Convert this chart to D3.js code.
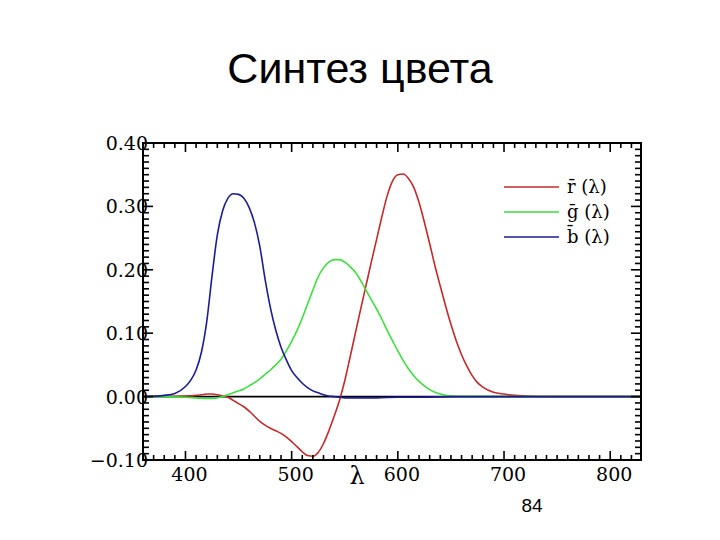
<!DOCTYPE html>
<html><head><meta charset="utf-8">
<script src="https://cdn.jsdelivr.net/npm/d3@7"></script>
<style>body{margin:0;background:#fff}svg{display:block}</style>
</head><body>
<svg id="c" width="720" height="540"></svg>
<script>
// Data (CIE 1931 RGB colour matching functions)
const redPts = [[360,0],[400,0.001],[410,0.002],[415,0.003],[420,0.004],[425,0.004],[430,0.003],[435,0.001],[440,-0.001],[445,-0.006],[450,-0.011],[455,-0.016],[460,-0.023],[465,-0.031],[470,-0.039],[475,-0.045],[480,-0.050],[485,-0.054],[490,-0.058],[495,-0.064],[500,-0.071],[505,-0.079],[510,-0.087],[515,-0.093],[520,-0.094],[525,-0.088],[530,-0.074],[535,-0.054],[540,-0.031],[545,-0.006],[550,0.025],[555,0.062],[560,0.100],[565,0.138],[570,0.175],[575,0.212],[580,0.248],[585,0.284],[590,0.317],[595,0.340],[600,0.350],[605,0.351],[610,0.344],[615,0.330],[620,0.306],[625,0.275],[630,0.241],[635,0.206],[640,0.174],[645,0.143],[650,0.114],[655,0.088],[660,0.066],[665,0.048],[670,0.033],[675,0.022],[680,0.015],[690,0.007],[700,0.004],[710,0.002],[720,0.001],[740,0],[829,0]];
const greenPts = [[360,0],[400,-0.001],[410,-0.002],[420,-0.003],[430,-0.002],[435,0.000],[440,0.003],[445,0.006],[450,0.009],[455,0.012],[460,0.017],[465,0.022],[470,0.028],[475,0.035],[480,0.042],[485,0.050],[490,0.059],[495,0.072],[500,0.087],[505,0.104],[510,0.124],[515,0.146],[520,0.168],[525,0.189],[530,0.203],[535,0.212],[540,0.216],[545,0.216],[550,0.212],[555,0.205],[560,0.196],[565,0.183],[570,0.168],[575,0.153],[580,0.138],[585,0.122],[590,0.104],[595,0.088],[600,0.072],[605,0.057],[610,0.044],[615,0.033],[620,0.024],[625,0.017],[630,0.011],[635,0.007],[640,0.004],[645,0.002],[650,0.001],[660,0],[829,0]];
const bluePts = [[360,0],[380,0.002],[390,0.005],[400,0.016],[405,0.026],[410,0.042],[415,0.070],[420,0.118],[425,0.190],[430,0.255],[435,0.293],[440,0.313],[445,0.320],[450,0.319],[455,0.313],[460,0.298],[465,0.274],[470,0.237],[475,0.185],[480,0.140],[485,0.105],[490,0.078],[495,0.058],[500,0.041],[505,0.030],[510,0.021],[515,0.014],[520,0.009],[525,0.006],[530,0.003],[535,0.001],[540,0],[545,-0.001],[550,-0.002],[580,-0.002],[600,-0.001],[620,-0.001],[650,0],[829,0]];
const xTicks = [400,500,600,700,800];
const yTicks = [0.40,0.30,0.20,0.10,0.00,-0.10];
const yTickLabels = ["0.40","0.30","0.20","0.10","0.00","\u22120.10"];
const legendLabels = ["r\u0304 (\u03bb)","g\u0304 (\u03bb)","b\u0304 (\u03bb)"];
const seriesColors = ["#c42a2a","#3ede3e","#1c1c96"];

const svg = d3.select("#c");
const L=143,R=641,T=143,B=460;
const x = d3.scaleLinear().domain([360,829]).range([L,R]);
const y = d3.scaleLinear().domain([-0.1,0.4]).range([B,T]);

// Title
svg.append("text").attr("x",360).attr("y",83).attr("text-anchor","middle")
  .attr("font-family","Liberation Sans, Arial, sans-serif").attr("font-size",43).text("Синтез цвета");
svg.append("text").attr("x",532).attr("y",512).attr("text-anchor","middle")
  .attr("font-family","Liberation Sans, Arial, sans-serif").attr("font-size",19).text("84");

// zero line
svg.append("line").attr("x1",L).attr("x2",R).attr("y1",y(0)).attr("y2",y(0))
  .attr("stroke","#000").attr("stroke-width",1.6);

// curves
const line = d3.line().x(d=>x(d[0])).y(d=>y(d[1])).curve(d3.curveMonotoneX);
[redPts,greenPts,bluePts].forEach((pts,i)=>{
  svg.append("path").datum(pts).attr("d",line).attr("fill","none")
    .attr("stroke",seriesColors[i]).attr("stroke-width",1.6);
});

// ticks
const tg = svg.append("g").attr("stroke","#000").attr("stroke-width",1.6);
d3.range(360,830,10).forEach(v=>{
  const len = (v%100===0)?9:5;
  tg.append("line").attr("x1",x(v)).attr("x2",x(v)).attr("y1",B).attr("y2",B-len);
  tg.append("line").attr("x1",x(v)).attr("x2",x(v)).attr("y1",T).attr("y2",T+len);
});
d3.range(-10,41,1).forEach(k=>{
  const v=k/100, len=(k%10===0)?10:6;
  tg.append("line").attr("x1",L).attr("x2",L+len).attr("y1",y(v)).attr("y2",y(v));
  tg.append("line").attr("x1",R).attr("x2",R-len).attr("y1",y(v)).attr("y2",y(v));
});

// frame
svg.append("rect").attr("x",L).attr("y",T).attr("width",R-L).attr("height",B-T)
  .attr("fill","none").attr("stroke","#000").attr("stroke-width",2);

// tick labels
const serif="DejaVu Serif, serif";
svg.append("g").selectAll("text").data(xTicks).join("text")
  .attr("x",d=>x(d)+4).attr("y",481).attr("text-anchor","middle")
  .attr("font-family",serif).attr("font-size",19).attr("font-weight",300).text(d=>d);
svg.append("g").selectAll("text").data(yTicks).join("text")
  .attr("x",148).attr("y",d=>y(d)+7).attr("text-anchor","end")
  .attr("font-family",serif).attr("font-size",19).text((d,i)=>yTickLabels[i]);
svg.append("text").attr("x",357).attr("y",484).attr("text-anchor","middle")
  .attr("font-family",serif).attr("font-size",24).text("\u03bb");

// legend
legendLabels.forEach((t,i)=>{
  const ly=187+25*i;
  svg.append("line").attr("x1",504).attr("x2",559).attr("y1",ly).attr("y2",ly)
    .attr("stroke",seriesColors[i]).attr("stroke-width",1.6);
  svg.append("text").attr("x",567).attr("y",ly+6).attr("font-family",serif)
    .attr("font-size",18).text(t);
});
</script>
</body></html>
